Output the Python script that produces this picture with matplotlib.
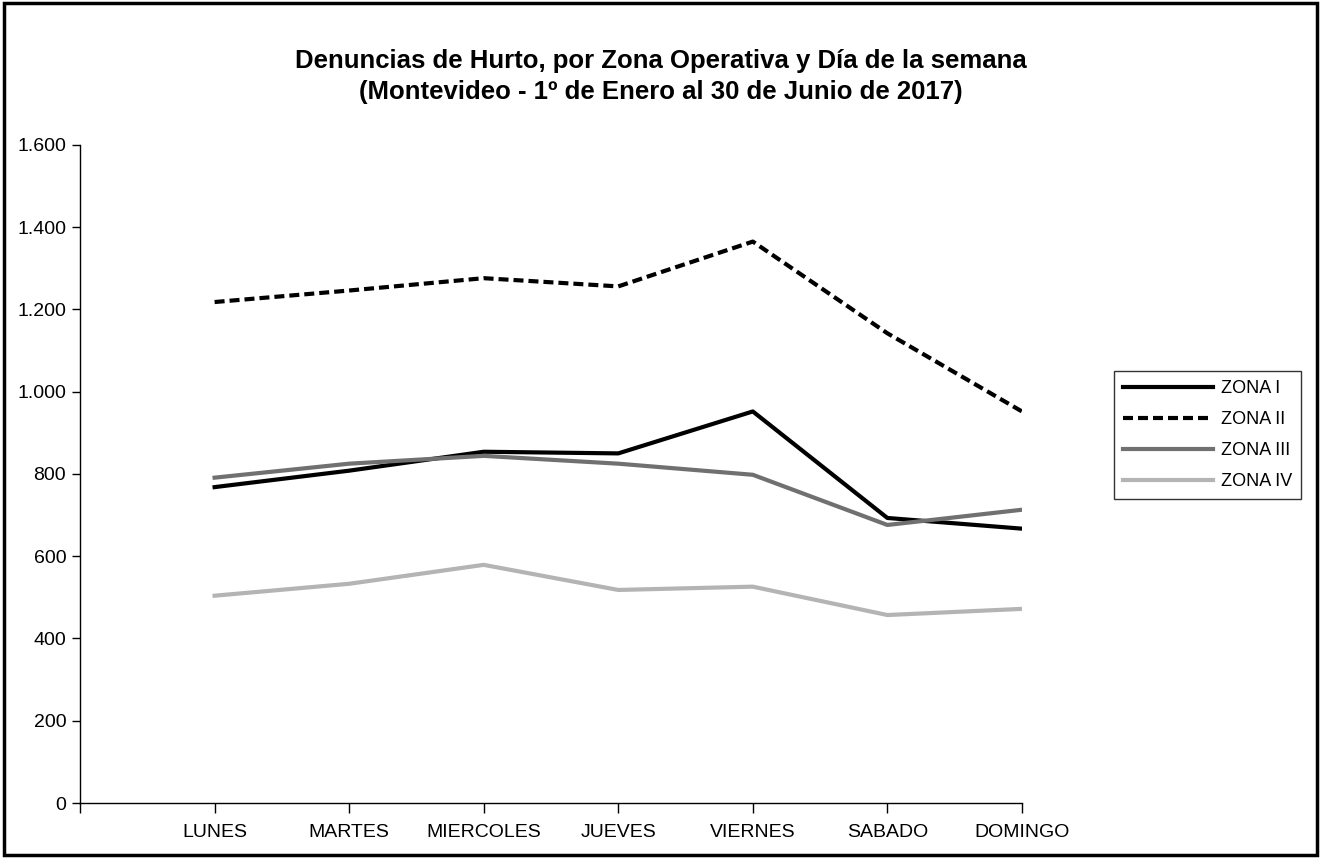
import matplotlib
matplotlib.use("Agg")
import matplotlib.pyplot as plt
from matplotlib.patches import Rectangle
from matplotlib.ticker import FuncFormatter

plt.rcParams['font.family'] = ['Liberation Sans', 'DejaVu Sans']

# Data
dias = ['LUNES', 'MARTES', 'MIERCOLES', 'JUEVES', 'VIERNES', 'SABADO', 'DOMINGO']
zona_1 = [768, 808, 854, 850, 952, 693, 667]
zona_2 = [1218, 1246, 1276, 1256, 1365, 1142, 952]
zona_3 = [791, 825, 844, 825, 798, 676, 713]
zona_4 = [504, 533, 579, 518, 526, 457, 472]
yticks = [0, 200, 400, 600, 800, 1000, 1200, 1400, 1600]

fig = plt.figure(figsize=(13.21, 8.58), dpi=100)
ax = fig.add_axes([0.0606, 0.0641, 0.713, 0.767])

x = list(range(len(dias)))
ax.plot(x, zona_1, color='black', lw=3, label='ZONA I')
ax.plot(x, zona_2, color='black', lw=3, linestyle=(0, (2.4, 1.2)), label='ZONA II')
ax.plot(x, zona_3, color='#707070', lw=3, label='ZONA III')
ax.plot(x, zona_4, color='#b4b4b4', lw=3, label='ZONA IV')

ax.set_xlim(-1, len(dias) - 1)
ax.set_ylim(0, 1600)
ax.set_xticks([-1] + x)
ax.set_xticklabels([''] + dias, fontsize=14)
ax.set_yticks(yticks)
ax.yaxis.set_major_formatter(FuncFormatter(lambda v, p: f'{int(v):,}'.replace(',', '.')))
ax.tick_params(axis='y', labelsize=14, length=6, width=1, direction='out', pad=4)
ax.tick_params(axis='x', length=7, width=1, direction='out', pad=8)

for s in ['top', 'right']:
    ax.spines[s].set_visible(False)
for s in ['left', 'bottom']:
    ax.spines[s].set_linewidth(1)

fig.text(0.5, 0.911, 'Denuncias de Hurto, por Zona Operativa y Día de la semana\n(Montevideo - 1º de Enero al 30 de Junio de 2017)',
         ha='center', va='center', fontsize=18.5, fontweight='bold', linespacing=1.38)

leg = fig.legend(loc='upper left', bbox_to_anchor=(0.8433, 0.5676), fontsize=13,
                 frameon=True, fancybox=False, edgecolor='black', handlelength=5.0,
                 handletextpad=0.4, borderpad=0.5, labelspacing=0.78, borderaxespad=0)
leg.get_frame().set_linewidth(1)

fig.patches.append(Rectangle((0.003, 0.003), 0.994, 0.994, transform=fig.transFigure,
                             fill=False, edgecolor='black', linewidth=2.5))

fig.savefig('out.png', dpi=100)
